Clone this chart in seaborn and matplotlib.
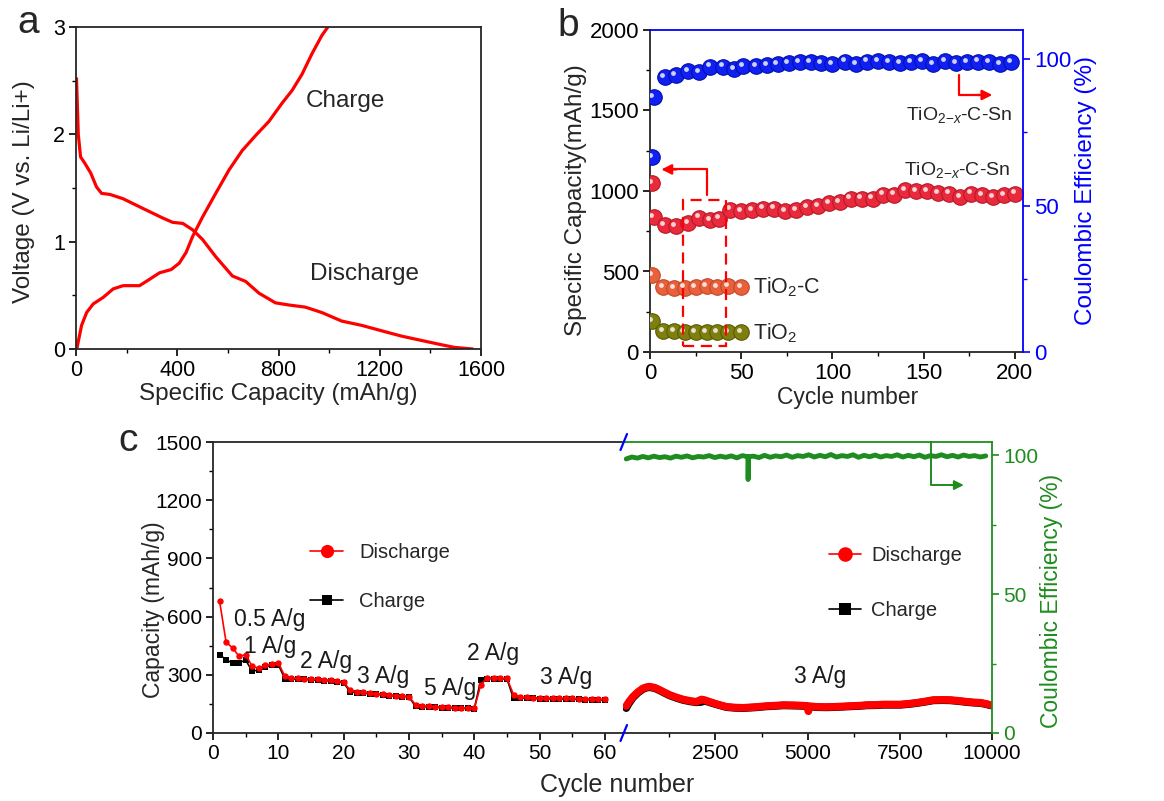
import numpy as np
import pandas as pd
import matplotlib
matplotlib.use("Agg")
import matplotlib.pyplot as plt
import seaborn as sns
from matplotlib.lines import Line2D
from matplotlib.patches import Rectangle
from matplotlib.ticker import MultipleLocator, FixedLocator
import matplotlib.transforms as mtransforms

# ---------------- data ----------------
# panel a
dis_cap = [2, 9, 18, 35, 58, 81, 101, 134, 186, 264, 343, 382, 422, 461, 500, 552, 618, 670, 723,
           788, 841, 906, 971, 1050, 1129, 1207, 1286, 1364, 1443, 1495, 1567]
dis_v = [2.52, 2.0, 1.79, 1.73, 1.64, 1.51, 1.45, 1.44, 1.40, 1.31, 1.22, 1.18, 1.17, 1.11, 1.02, 0.86,
         0.68, 0.63, 0.52, 0.43, 0.41, 0.39, 0.34, 0.26, 0.22, 0.17, 0.12, 0.08, 0.04, 0.015, 0.0]
chg_cap = [3, 22, 42, 68, 107, 147, 186, 251, 291, 330, 376, 408, 435, 461, 500, 552, 605, 657, 710,
           762, 814, 854, 893, 932, 971, 995]
chg_v = [0.0, 0.22, 0.34, 0.42, 0.48, 0.56, 0.59, 0.59, 0.65, 0.71, 0.74, 0.80, 0.90, 1.05, 1.23, 1.45,
         1.67, 1.85, 1.99, 2.12, 2.29, 2.41, 2.56, 2.75, 2.92, 3.0]

# panel b
ce_cycle = [1, 2, 8, 14, 21, 27, 33, 40, 46, 51, 58, 64, 70, 76, 82, 88, 94, 100, 107, 113, 119, 125,
            131, 137, 143, 149, 155, 162, 168, 174, 180, 186, 192, 198]
ce_val = [66.7, 87.2, 93.8, 94.6, 96.0, 95.6, 97.5, 97.5, 96.7, 97.7, 97.8, 98.1, 98.3, 98.6, 98.9, 98.9,
          98.6, 98.3, 99.2, 98.4, 99.2, 99.4, 99.0, 98.6, 98.9, 99.4, 98.4, 99.5, 98.6, 98.9, 99.2, 99.0,
          98.4, 99.0]
sn_cycle = [1, 2, 8, 14, 21, 27, 33, 38, 44, 50, 56, 62, 68, 74, 80, 86, 92, 98, 104, 110, 116, 122,
            128, 134, 140, 146, 152, 158, 164, 170, 176, 182, 188, 194, 200]
sn_cap = [1047, 839, 788, 781, 802, 835, 819, 829, 885, 875, 881, 891, 891, 875, 881, 902, 906, 926, 933,
          953, 953, 953, 978, 978, 1005, 999, 999, 989, 984, 964, 984, 974, 964, 974, 984]
tc_cycle = [1, 7, 13, 19, 25, 31, 37, 43, 50]
tc_cap = [478, 405, 396, 400, 403, 408, 405, 408, 405]
t_cycle = [1, 7, 13, 19, 25, 31, 37, 43, 50]
t_cap = [190, 132, 128, 124, 122, 122, 124, 125, 124]

# panel c (rate test, cycles 1-60)
rate_cycle = list(range(1, 61))
rate_dis = [681, 469, 438, 395, 404, 343, 334, 350, 355, 362,
            292, 283, 282, 280, 279, 277, 275, 272, 268, 262,
            220, 212, 210, 206, 202, 199, 196, 193, 190, 188,
            145, 140, 138, 136, 134, 133, 131, 130, 129, 127,
            250, 285, 284, 283, 281,
            198, 185, 183, 182, 181, 180, 180, 179, 178, 178, 177, 176, 175, 175, 174]
rate_chg = [404, 378, 360, 362, 376, 318, 326, 340, 348, 352,
            280, 278, 277, 276, 274, 272, 270, 268, 264, 258,
            212, 208, 205, 202, 199, 196, 193, 190, 188, 185,
            138, 136, 134, 133, 131, 130, 129, 128, 127, 126,
            275, 280, 280, 279, 278,
            178, 180, 179, 178, 177, 176, 176, 175, 174, 174, 173, 172, 171, 171, 170]
rate_labels = ["0.5 A/g", "1 A/g", "2 A/g", "3 A/g", "5 A/g", "2 A/g", "3 A/g"]

# panel c (long cycling at 3 A/g)
long_cycle = [80, 150, 260, 400, 530, 620, 710, 850, 990, 1130, 1260, 1450, 1620, 1800, 1980, 2120, 2200,
              2340, 2550, 2800, 3050, 3250, 3600, 3890, 4100, 4340, 4600, 4790, 4980, 5020, 5060, 5240,
              5500, 5700, 5950, 6150, 6400, 6600, 6850, 7060, 7300, 7510, 7750, 7960, 8200, 8410, 8650,
              8870, 9100, 9320, 9500, 9690, 9850, 9960]
long_dis = [139, 160, 187, 212, 230, 236, 239, 234, 222, 208, 196, 183, 173, 166, 161, 173, 170, 161, 148,
            135, 131, 130, 134, 139, 141, 144, 143, 142, 140, 112, 138, 135, 134, 135, 137, 139, 141, 144,
            145, 147, 147, 147, 151, 156, 163, 170, 171, 170, 166, 161, 158, 156, 150, 144]
long_chg = [128, 152, 182, 208, 226, 233, 236, 231, 219, 205, 193, 180, 170, 163, 158, 160, 167, 158, 146,
            133, 129, 128, 132, 137, 139, 142, 141, 140, 138, 125, 136, 133, 132, 133, 135, 137, 139, 142,
            143, 145, 145, 145, 149, 154, 161, 168, 169, 168, 164, 159, 156, 154, 148, 142]
ce_long_cycle = list(range(80, 9900, 150))
ce_long_val = [98.6, 99.3, 98.9, 99.5, 99.0, 99.6, 99.1, 99.4, 98.9, 99.6,
               99.2, 99.7, 99.0, 99.5, 99.3, 99.8, 99.1, 99.6, 99.2, 99.7,
               99.0, 99.8, 99.3, 99.6, 99.1, 99.9, 99.2, 99.7, 99.4, 100.0,
               99.2, 99.8, 99.5, 100.1, 99.3, 99.9, 99.4, 100.2, 99.3, 99.8,
               99.5, 100.1, 99.2, 99.9, 99.4, 100.0, 99.3, 99.8, 99.5, 100.1,
               99.3, 99.9, 99.4, 100.0, 99.2, 99.8, 99.5, 100.1, 99.4, 99.9,
               99.3, 100.0, 99.5, 99.8, 99.3, 99.7]
ce_dip_cycle = [3375, 3385, 3395]
ce_dip_val = [99.4, 91.2, 99.4]

# ---------------- style ----------------
sns.set_style("ticks")
plt.rcParams['font.family'] = ['Liberation Sans', 'DejaVu Sans']
plt.rcParams['mathtext.fontset'] = 'custom'
plt.rcParams['mathtext.rm'] = 'Liberation Sans'
plt.rcParams['mathtext.it'] = 'Liberation Sans:italic'
plt.rcParams['axes.linewidth'] = 1.3
plt.rcParams['xtick.direction'] = 'out'
plt.rcParams['ytick.direction'] = 'out'

W, H = 1164, 801
fig = plt.figure(figsize=(W / 100, H / 100), dpi=100)


def rect(l, t, r, b):
    return [l / W, 1 - b / H, (r - l) / W, (b - t) / H]


def fpt(x, y):
    return (x / W, 1 - y / H)


def style_ticks(ax, size, axis='both', color='black'):
    ax.tick_params(axis=axis, which='major', length=5, width=1.2, labelsize=size, colors=color, pad=3)
    ax.tick_params(axis=axis, which='minor', length=3, width=1.0, colors=color)


RED = '#ff0000'
BLUE = '#0000ff'
GREEN = '#1e8c1e'

# ---------------- panel a ----------------
ax_a = fig.add_axes(rect(76, 27, 481, 349))
sns.lineplot(x=dis_cap, y=dis_v, ax=ax_a, color=RED, lw=2.3, sort=False, estimator=None)
sns.lineplot(x=chg_cap, y=chg_v, ax=ax_a, color=RED, lw=2.3, sort=False, estimator=None)
ax_a.set_xlim(0, 1600)
ax_a.set_ylim(0, 3)
ax_a.xaxis.set_major_locator(MultipleLocator(400))
ax_a.xaxis.set_minor_locator(MultipleLocator(200))
ax_a.yaxis.set_major_locator(MultipleLocator(1))
ax_a.yaxis.set_minor_locator(MultipleLocator(0.5))
style_ticks(ax_a, 15.5)
ax_a.set_xlabel('Specific Capacity (mAh/g)', fontsize=17.5)
ax_a.set_ylabel('Voltage (V vs. Li/Li+)', fontsize=17.5)
ax_a.xaxis.set_label_coords(0.5, -0.105)
ax_a.yaxis.set_label_coords(-0.10, 0.488)
ax_a.text(1064, 2.31, 'Charge', fontsize=17.5, ha='center', va='center')
ax_a.text(1138, 0.70, 'Discharge', fontsize=17.5, ha='center', va='center')
fig.text(*fpt(28, 23), 'a', fontsize=28, ha='center', va='center')

# ---------------- panel b ----------------
ax_b = fig.add_axes(rect(650, 30, 1023, 352))
ax_b2 = ax_b.twinx()


def spheres(ax, x, y, color, edge):
    sns.scatterplot(x=x, y=y, ax=ax, color=color, s=125, edgecolor=edge, linewidth=0.8,
                    zorder=3, legend=False)
    tr = mtransforms.offset_copy(ax.transData, fig=fig, x=-2.2, y=2.2, units='dots')
    ax.scatter(x, y, s=12, color='white', alpha=0.8, transform=tr, zorder=4, linewidths=0)


spheres(ax_b, t_cycle, t_cap, '#7f7f10', '#5a5a00')
spheres(ax_b, tc_cycle, tc_cap, '#e8603c', '#c04a28')
spheres(ax_b, sn_cycle, sn_cap, '#e82a3c', '#b81828')
spheres(ax_b2, ce_cycle, ce_val, '#1020f0', '#0010b0')

ax_b.set_xlim(0, 204.5)
ax_b.set_ylim(0, 2000)
ax_b2.set_ylim(0, 110)
ax_b.xaxis.set_major_locator(MultipleLocator(50))
ax_b.xaxis.set_minor_locator(MultipleLocator(25))
ax_b.yaxis.set_major_locator(MultipleLocator(500))
ax_b.yaxis.set_minor_locator(MultipleLocator(250))
ax_b2.yaxis.set_major_locator(FixedLocator([0, 50, 100]))
ax_b2.yaxis.set_minor_locator(FixedLocator([25, 75]))
style_ticks(ax_b, 16)
style_ticks(ax_b2, 16, axis='y', color=BLUE)
ax_b.spines['top'].set_visible(False)
ax_b.spines['right'].set_visible(False)
ax_b2.spines['left'].set_visible(False)
ax_b2.spines['bottom'].set_visible(False)
ax_b2.spines['right'].set_color(BLUE)
ax_b2.spines['top'].set_color(BLUE)
ax_b.set_xlabel('Cycle number', fontsize=16.5)
ax_b.set_ylabel('Specific Capacity(mAh/g)', fontsize=17.5)
ax_b2.set_ylabel('Coulombic Efficiency (%)', fontsize=17.5, color=BLUE)
ax_b.xaxis.set_label_coords(0.53, -0.105)
ax_b.yaxis.set_label_coords(-0.168, 0.472)
ax_b2.yaxis.set_label_coords(1.139, 0.503)

ax_b.text(140.5, 1471, r'TiO$_{2\mathrm{-}x}$-C-Sn', fontsize=14, ha='left', va='center')
ax_b.text(139.5, 1130, r'TiO$_{2\mathrm{-}x}$-C-Sn', fontsize=14, ha='left', va='center')
ax_b.text(56.2, 404, r'TiO$_2$-C', fontsize=15.5, ha='left', va='center')
ax_b.text(56.2, 114, r'TiO$_2$', fontsize=15.5, ha='left', va='center')

# arrows and dashed box (data coordinates of the respective axes)
ax_b2.plot([169.5, 169.5, 182.0], [94.6, 87.8, 87.8], color=RED, lw=1.6, zorder=5, clip_on=False)
ax_b2.annotate('', xy=(189.2, 87.8), xytext=(178.0, 87.8), xycoords='data',
               arrowprops=dict(arrowstyle='-|>', color=RED, lw=1.6, mutation_scale=15))
ax_b.plot([31.1, 31.1, 12.0], [974, 1134, 1134], color=RED, lw=1.6, zorder=5, clip_on=False)
ax_b.annotate('', xy=(4.7, 1134), xytext=(16.0, 1134), xycoords='data',
              arrowprops=dict(arrowstyle='-|>', color=RED, lw=1.6, mutation_scale=15))
ax_b.add_patch(Rectangle((18.0, 37), 23.5, 910, fill=False, edgecolor=RED, lw=1.6,
                         linestyle=(0, (5, 3)), zorder=5))
fig.text(*fpt(568, 26), 'b', fontsize=28, ha='center', va='center')

# ---------------- panel c ----------------
ax_cl = fig.add_axes(rect(213, 442, 623.3, 733))
ax_cr = fig.add_axes(rect(623.3, 442, 992, 733))
ax_cr2 = ax_cr.twinx()

sns.lineplot(x=rate_cycle, y=rate_chg, ax=ax_cl, color='black', lw=1.2, marker='s', markersize=4.8,
             markeredgewidth=0, sort=False, estimator=None)
sns.lineplot(x=rate_cycle, y=rate_dis, ax=ax_cl, color=RED, lw=1.2, marker='o', markersize=4.6,
             markeredgewidth=0, sort=False, estimator=None)
ax_cl.set_xlim(0, 62.8)
ax_cl.set_ylim(0, 1500)
ax_cl.xaxis.set_major_locator(MultipleLocator(10))
ax_cl.xaxis.set_minor_locator(MultipleLocator(5))
ax_cl.yaxis.set_major_locator(MultipleLocator(300))
ax_cl.yaxis.set_minor_locator(MultipleLocator(150))
style_ticks(ax_cl, 15)
ax_cl.spines['right'].set_visible(False)
ax_cl.set_ylabel('Capacity (mAh/g)', fontsize=16.5)
ax_cl.yaxis.set_label_coords(-0.118, 0.423)

rate_pos_x = [8.66, 8.77, 17.3, 26.0, 36.3, 42.9, 54.1]
rate_pos_y = [585, 447, 369, 291, 230, 409, 288]
for lab, xx, yy in zip(rate_labels, rate_pos_x, rate_pos_y):
    ax_cl.text(xx, yy, lab, fontsize=16.5, ha='center', va='center', color='#1a1a1a')

long_df = pd.DataFrame({'cycle': long_cycle, 'dis': long_dis, 'chg': long_chg})
sns.lineplot(data=long_df, x='cycle', y='chg', ax=ax_cr, color='black', lw=5.5, estimator=None)
sns.lineplot(data=long_df, x='cycle', y='dis', ax=ax_cr, color=RED, lw=5.5, estimator=None)
ce_df = pd.DataFrame({'cycle': ce_long_cycle + ce_dip_cycle,
                      'ce': ce_long_val[:len(ce_long_cycle)] + ce_dip_val}).sort_values('cycle')
sns.lineplot(data=ce_df, x='cycle', y='ce', ax=ax_cr2, color=GREEN, lw=3.5, estimator=None)
ax_cr.set_xlim(0, 10000)
ax_cr.set_ylim(0, 1500)
ax_cr2.set_ylim(0, 104.7)
ax_cr.xaxis.set_major_locator(FixedLocator([2500, 5000, 7500, 10000]))
ax_cr.xaxis.set_minor_locator(FixedLocator([1250, 3750, 6250, 8750]))
ax_cr.set_yticks([])
style_ticks(ax_cr, 15, axis='x')
ax_cr2.yaxis.set_major_locator(FixedLocator([0, 50, 100]))
ax_cr2.yaxis.set_minor_locator(FixedLocator([25, 75]))
style_ticks(ax_cr2, 15, axis='y', color=GREEN)
for sp in ['left', 'right', 'top']:
    ax_cr.spines[sp].set_visible(False)
ax_cr2.spines['left'].set_visible(False)
ax_cr2.spines['bottom'].set_visible(False)
ax_cr2.spines['right'].set_color(GREEN)
ax_cr2.spines['top'].set_color(GREEN)
ax_cr.set_xlabel('')
ax_cl.set_xlabel('')
ax_cr.set_ylabel('')
ax_cr2.set_ylabel('Coulombic Efficiency (%)', fontsize=16.5, color=GREEN)
ax_cr2.yaxis.set_label_coords(1.13, 0.454)
ax_cr.text(5334, 290, '3 A/g', fontsize=16.5, ha='center', va='center', color='#1a1a1a')

# green arrow
ax_cr2.plot([0.8347, 0.8347, 0.90], [1.0, 0.852, 0.852], color=GREEN, lw=1.4,
            transform=ax_cr2.transAxes, clip_on=False, zorder=5)
ax_cr2.annotate('', xy=(0.931, 0.852), xytext=(0.88, 0.852), xycoords='axes fraction',
                arrowprops=dict(arrowstyle='-|>', color=GREEN, lw=1.4, mutation_scale=14))

fig.text(*fpt(617, 785), 'Cycle number', fontsize=18, ha='center', va='center')
fig.text(*fpt(128, 441), 'c', fontsize=28, ha='center', va='center')

# break marks
for y0 in (442, 733):
    fig.add_artist(Line2D([620.5 / W, 627 / W], [1 - (y0 + 8) / H, 1 - (y0 - 8) / H],
                          color=BLUE, lw=1.6, transform=fig.transFigure))

# legends
hd = [Line2D([0], [0], color=RED, lw=1.2, marker='o', markersize=9.5, markeredgewidth=0),
      Line2D([0], [0], color='black', lw=1.2, marker='s', markersize=7.5, markeredgewidth=0)]
ax_cl.legend(hd, ['Discharge', 'Charge'], loc='upper left', bbox_to_anchor=fpt(310, 543),
             bbox_transform=fig.transFigure, frameon=False, fontsize=14.5, handlelength=1.65,
             handletextpad=0.8, labelspacing=1.5, borderpad=0, borderaxespad=0)
hd2 = [Line2D([0], [0], color=RED, lw=1.2, marker='o', markersize=10.5, markeredgewidth=0),
       Line2D([0], [0], color='black', lw=1.2, marker='s', markersize=8.4, markeredgewidth=0)]
ax_cr2.legend(hd2, ['Discharge', 'Charge'], loc='upper left', bbox_to_anchor=fpt(829, 546),
              bbox_transform=fig.transFigure, frameon=False, fontsize=14.5, handlelength=1.6,
              handletextpad=0.5, labelspacing=1.8, borderpad=0, borderaxespad=0)

fig.savefig('out.png', dpi=100)
